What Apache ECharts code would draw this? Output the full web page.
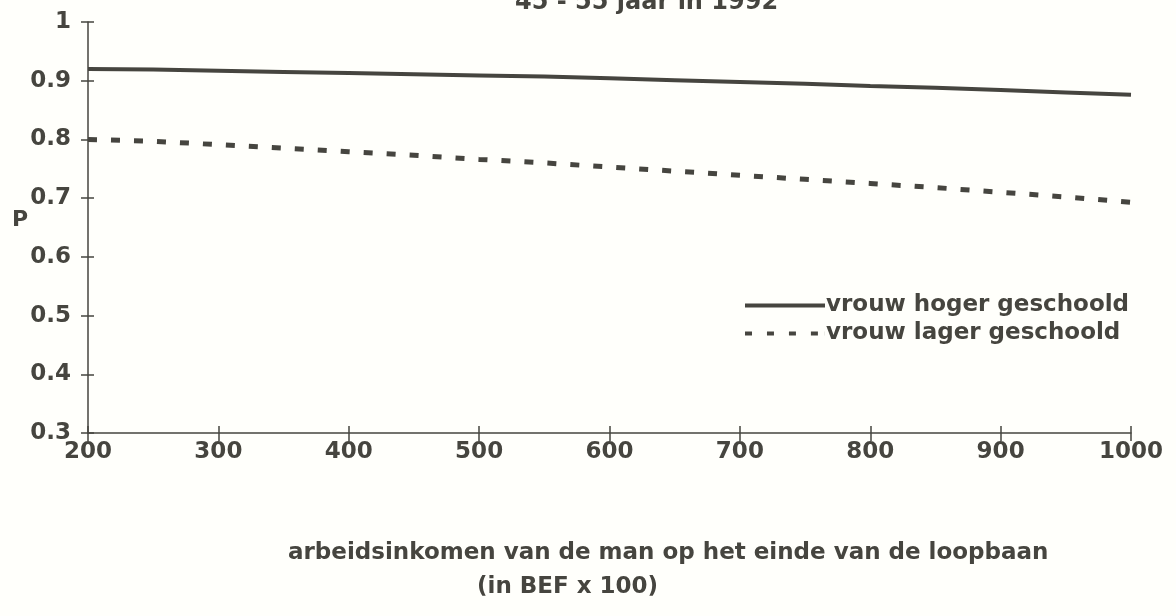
<!DOCTYPE html>
<html>
<head>
<meta charset="utf-8">
<script src="https://cdn.jsdelivr.net/npm/echarts@6/dist/echarts.min.js"></script>
<style>html,body{margin:0;padding:0;background:#fffffb;}#c{width:1176px;height:616px;}</style>
</head>
<body>
<div id="c"></div>
<script>
const income = [200, 250, 300, 350, 400, 450, 500, 550, 600, 650, 700, 750, 800, 850, 900, 950, 1000];
const hoger  = [0.920, 0.919, 0.917, 0.915, 0.913, 0.911, 0.909, 0.907, 0.904, 0.901, 0.898, 0.895, 0.891, 0.888, 0.884, 0.880, 0.876];
const lager  = [0.800, 0.797, 0.791, 0.785, 0.779, 0.773, 0.766, 0.760, 0.753, 0.746, 0.739, 0.732, 0.725, 0.718, 0.710, 0.702, 0.693];
const seriesNames = ['vrouw hoger geschoold', 'vrouw lager geschoold'];
const titleText = '45 - 55 jaar in 1992';
const xTitle1 = 'arbeidsinkomen van de man op het einde van de loopbaan';
const xTitle2 = '(in BEF x 100)';
const yTitle = 'P';

const ink = '#46453f';
const font = 'DejaVu Sans';
const W = 1176, H = 616;
const grid = {left: 88, right: 45, top: 22, bottom: 183};
const plotW = W - grid.left - grid.right;
const plotH = H - grid.top - grid.bottom;
const chart = echarts.init(document.getElementById('c'), null, {renderer: 'canvas'});
const tickStyle = {color: ink, width: 1.5};
chart.setOption({
  backgroundColor: '#fffffb',
  animation: false,
  grid: grid,
  xAxis: [
    {type: 'value', min: 200, max: 1000, interval: 100, position: 'bottom',
      axisLine: {show: true, onZero: false, lineStyle: {color: ink, width: 1.5}},
      splitLine: {show: false},
      axisTick: {show: true, length: 8, lineStyle: tickStyle},
      axisLabel: {color: ink, fontFamily: font, fontWeight: 'bold', fontSize: 23, margin: 8,
        formatter: v => String(v)}},
    {type: 'value', min: 200, max: 1000, interval: 100, position: 'top', offset: -plotH,
      axisLine: {show: false, onZero: false}, splitLine: {show: false},
      axisTick: {show: true, length: 7, lineStyle: tickStyle},
      axisLabel: {show: false}}
  ],
  yAxis: [
    {type: 'value', min: 0.3, max: 1, interval: 0.1, position: 'left',
      axisLine: {show: true, onZero: false, lineStyle: {color: ink, width: 1.5}},
      splitLine: {show: false},
      axisTick: {show: true, length: 7, lineStyle: tickStyle},
      axisLabel: {color: ink, fontFamily: font, fontWeight: 'bold', fontSize: 23, margin: 17,
        formatter: v => String(Math.round(v * 10) / 10)}},
    {type: 'value', min: 0.3, max: 1, interval: 0.1, position: 'right', offset: -plotW,
      axisLine: {show: false, onZero: false}, splitLine: {show: false},
      axisTick: {show: true, length: 6, lineStyle: tickStyle},
      axisLabel: {show: false}}
  ],
  legend: {
    orient: 'vertical', left: 740, top: 289, itemGap: 5,
    itemWidth: 80, itemHeight: 4,
    textStyle: {color: ink, fontFamily: font, fontWeight: 'bold', fontSize: 23, padding: [0, 0, 0, -4]},
    data: [
      {name: seriesNames[0], icon: 'path://M0,0H80V4H0Z'},
      {name: seriesNames[1], icon: 'path://M0,0H7V4H0Z M22,0H29V4H22Z M44,0H51V4H44Z M66,0H73V4H66Z M80,0H80.1V4H80Z'}
    ]
  },
  series: [
    {name: seriesNames[0], type: 'line', symbol: 'none', xAxisIndex: 0, yAxisIndex: 0,
      lineStyle: {color: ink, width: 4, type: 'solid'}, itemStyle: {color: ink},
      data: income.map((x, i) => [x, hoger[i]])},
    {name: seriesNames[1], type: 'line', symbol: 'none', xAxisIndex: 0, yAxisIndex: 0,
      lineStyle: {color: ink, width: 5, type: [9, 14]}, itemStyle: {color: ink},
      data: income.map((x, i) => [x, lager[i]])},
    {name: 'ticks-helper', type: 'line', symbol: 'none', xAxisIndex: 1, yAxisIndex: 1, silent: true,
      lineStyle: {opacity: 0}, itemStyle: {opacity: 0},
      data: income.map((x, i) => [x, hoger[i]])}
  ],
  graphic: [
    {type: 'text', left: 515, top: -9, style: {text: titleText, fill: ink, font: 'bold 24px "DejaVu Sans"'}},
    {type: 'text', left: 12, top: 209, style: {text: yTitle, fill: ink, font: 'bold 22px "DejaVu Sans"'}},
    {type: 'text', left: 288, top: 542, style: {text: xTitle1, fill: ink, font: 'bold 23px "DejaVu Sans"'}},
    {type: 'text', left: 477, top: 576, style: {text: xTitle2, fill: ink, font: 'bold 23px "DejaVu Sans"'}}
  ]
});
</script>
</body>
</html>
